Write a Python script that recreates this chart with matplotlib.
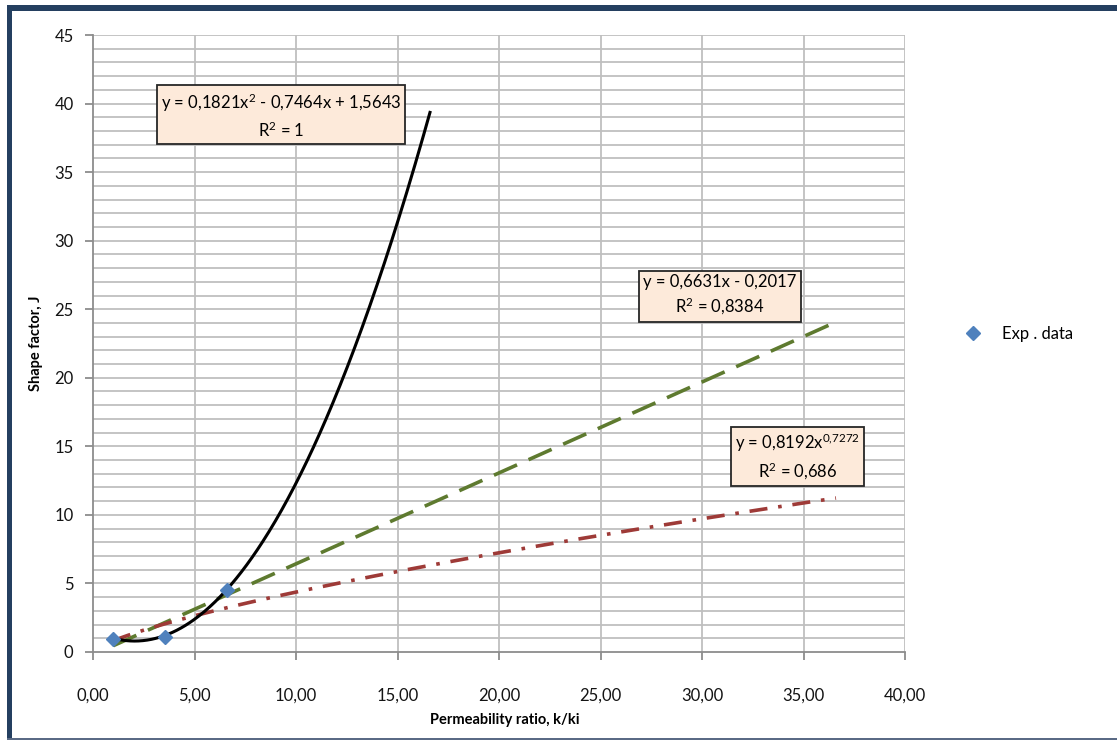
import numpy as np
import matplotlib
matplotlib.use("Agg")
import matplotlib.pyplot as plt
from matplotlib.patches import Rectangle
from matplotlib.lines import Line2D

plt.rcParams['font.family'] = ['Lato', 'DejaVu Sans']
plt.rcParams['mathtext.fontset'] = 'custom'
plt.rcParams['mathtext.rm'] = 'Lato'
plt.rcParams['mathtext.it'] = 'Lato'

# Experimental measurements
perm_ratio = [1.0, 3.55, 6.6]
shape_factor = [0.95, 1.1, 4.5]

# Trendline coefficients
quad_coef = [0.1821, -0.7464, 1.5643]
lin_coef = [0.6631, -0.2017]
pow_coef = [0.8192, 0.7272]
quad_forward = 10.0
lin_forward = 30.0
pow_forward = 30.0

x_ticks = [0, 5, 10, 15, 20, 25, 30, 35, 40]
y_ticks = [0, 5, 10, 15, 20, 25, 30, 35, 40, 45]

W, H = 1117, 740
fig = plt.figure(figsize=(W / 100, H / 100), dpi=100)

# outer chart frame
frame_col = '#243F60'
fig.patches.append(Rectangle((7 / W, 0), 5 / W, 1 - 5 / H, transform=fig.transFigure,
                             facecolor=frame_col, edgecolor='none', zorder=0))
fig.patches.append(Rectangle((7 / W, 1 - 11 / H), 1, 6 / H, transform=fig.transFigure,
                             facecolor=frame_col, edgecolor='none', zorder=0))
fig.patches.append(Rectangle((7 / W, 0), 1, 2.5 / H, transform=fig.transFigure,
                             facecolor='#5A6A85', edgecolor='none', zorder=0))

left, right = 93, 905
top, bottom = 35, 652
ax = fig.add_axes([left / W, 1 - bottom / H, (right - left) / W, (bottom - top) / H])
ax.set_xlim(0, 40)
ax.set_ylim(0, 45)

grid_col = '#BFBFBF'
for yv in range(1, 46):
    ax.axhline(yv, color=grid_col, lw=1.3, zorder=1)
for xv in x_ticks[1:]:
    ax.axvline(xv, color=grid_col, lw=1.3, zorder=1)

for s in ['top', 'right']:
    ax.spines[s].set_visible(False)
ax.spines['left'].set_color('#8C8C8C')
ax.spines['bottom'].set_color('#8C8C8C')
ax.spines['left'].set_linewidth(1.3)
ax.spines['bottom'].set_linewidth(1.3)

ax.set_xticks(x_ticks)
ax.set_xticklabels([f"{v:.2f}".replace('.', ',') for v in x_ticks])
ax.set_yticks(y_ticks)
ax.set_yticklabels([str(v) for v in y_ticks])
ax.tick_params(axis='x', length=6, width=1.3, color='#8C8C8C', pad=20,
               labelsize=12, labelcolor='#141414')
ax.tick_params(axis='y', length=6, width=1.3, color='#8C8C8C', pad=8,
               labelsize=12, labelcolor='#141414')

fig.text(505 / W, 1 - 720 / H, 'Permeability ratio, k/ki', fontsize=10.5,
         fontweight='bold', ha='center', va='center')
fig.text(36 / W, 1 - 343 / H, 'Shape factor, J', fontsize=10.5, fontweight='bold',
         ha='center', va='center', rotation=90)

x0 = min(perm_ratio)
x1 = max(perm_ratio)

# polynomial (order 2) trend
xq = np.linspace(x0, x1 + quad_forward, 300)
ax.plot(xq, np.polyval(quad_coef, xq), color='black', lw=2.2, zorder=4)

# linear trend
xl = np.linspace(x0, x1 + lin_forward, 50)
ax.plot(xl, np.polyval(lin_coef, xl), color='#5E7A2F', lw=2.6,
        dashes=(7, 3.5), zorder=3)

# power trend
xp = np.linspace(x0, x1 + pow_forward, 200)
ax.plot(xp, pow_coef[0] * xp ** pow_coef[1], color='#9E3A37', lw=2.6,
        dashes=(5, 3, 1, 3), zorder=3)

ax.plot(perm_ratio, shape_factor, linestyle='none', marker='D', markersize=7,
        color='#4F81BD', zorder=5, clip_on=False)

box = dict(boxstyle='square,pad=0.25', facecolor='#FDEADA', edgecolor='#262626', lw=1.3)
ax.text(9.26, 39.13, "y = 0,1821x$^{\\mathregular{2}}$ - 0,7464x + 1,5643\nR$^{\\mathregular{2}}$ = 1",
        ha='center', va='center', fontsize=12, linespacing=1.4, bbox=box, zorder=6)
ax.text(30.89, 26.0, "y = 0,6631x - 0,2017\nR$^{\\mathregular{2}}$ = 0,8384",
        ha='center', va='center', fontsize=12, linespacing=1.4, bbox=box, zorder=6)
ax.text(34.7, 14.26, "y = 0,8192x$^{\\mathregular{0{,}7272}}$\nR$^{\\mathregular{2}}$ = 0,686",
        ha='center', va='center', fontsize=12, linespacing=1.4, bbox=box, zorder=6)

handle = Line2D([], [], linestyle='none', marker='D', markersize=7, color='#4F81BD')
fig.legend([handle], ['Exp . data'], loc='center left',
           bbox_to_anchor=(950 / W, 1 - 334 / H), frameon=False, fontsize=12,
           handletextpad=1.2, handlelength=1.0)

fig.savefig('out.png', dpi=100, facecolor='white')
